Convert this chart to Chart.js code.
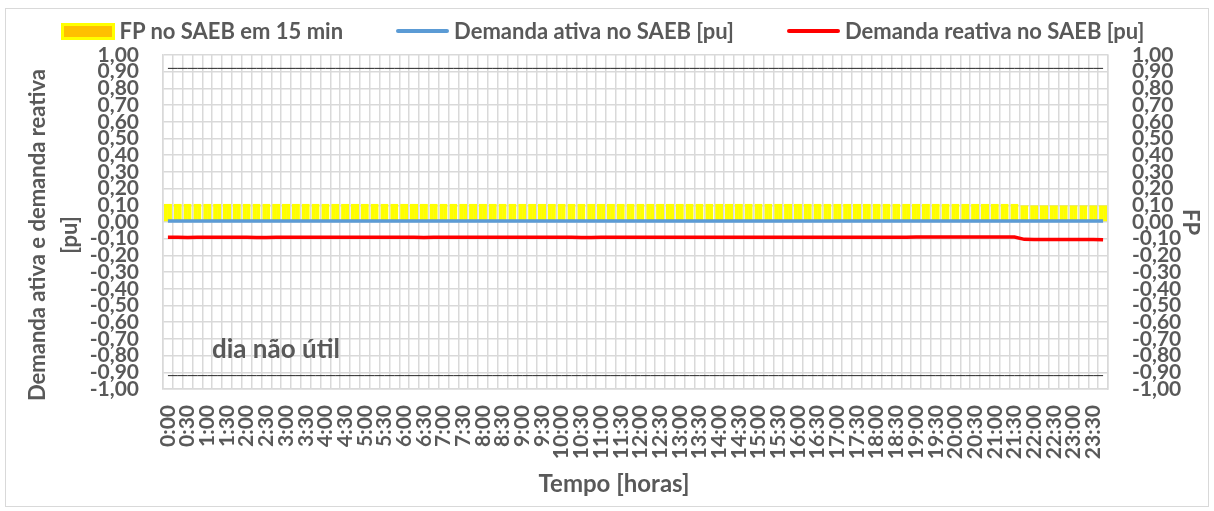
<!DOCTYPE html>
<html><head><meta charset="utf-8">
<script src="https://cdn.jsdelivr.net/npm/chart.js@4/dist/chart.umd.min.js"></script>
<style>
html,body{margin:0;padding:0;background:#fff;}
#wrap{position:relative;width:1214px;height:511px;overflow:hidden;font-family:Lato,'Noto Sans',sans-serif;}
canvas{position:absolute;left:0;top:0;}
#frame{position:absolute;left:5px;top:8px;width:1204px;height:499px;border:1px solid #D9D9D9;box-sizing:border-box;pointer-events:none;}
#legend{position:absolute;left:0;top:19px;width:1205px;display:flex;justify-content:center;align-items:center;column-gap:53px;font-weight:700;font-size:22px;color:#595959;line-height:24px;white-space:nowrap;}
.item{display:flex;align-items:center;}
.mk{display:inline-block;margin-right:5px;box-sizing:border-box;}
#note{position:absolute;left:212px;top:333px;font-weight:700;font-size:26px;color:#595959;line-height:30px;white-space:nowrap;}
#ytitle{position:absolute;left:-147px;top:203px;width:400px;height:64px;line-height:32px;text-align:center;font-weight:700;font-size:22px;color:#595959;transform:rotate(-90deg);transform-origin:50% 50%;white-space:nowrap;}
#xtitle{position:absolute;left:414px;top:467px;width:400px;line-height:32px;text-align:center;font-weight:700;font-size:24px;color:#595959;white-space:nowrap;}
</style></head>
<body>
<div id="wrap">
<canvas id="c" width="1214" height="511"></canvas>
<div id="frame"></div>
<div id="legend"></div>
<div id="ytitle"></div>
<div id="xtitle"></div>
<div id="note"></div>
</div>
<script>
// ---- data ----
const categories = [
"0:00","0:15","0:30","0:45","1:00","1:15","1:30","1:45","2:00","2:15","2:30","2:45",
"3:00","3:15","3:30","3:45","4:00","4:15","4:30","4:45","5:00","5:15","5:30","5:45",
"6:00","6:15","6:30","6:45","7:00","7:15","7:30","7:45","8:00","8:15","8:30","8:45",
"9:00","9:15","9:30","9:45","10:00","10:15","10:30","10:45","11:00","11:15","11:30","11:45",
"12:00","12:15","12:30","12:45","13:00","13:15","13:30","13:45","14:00","14:15","14:30","14:45",
"15:00","15:15","15:30","15:45","16:00","16:15","16:30","16:45","17:00","17:15","17:30","17:45",
"18:00","18:15","18:30","18:45","19:00","19:15","19:30","19:45","20:00","20:15","20:30","20:45",
"21:00","21:15","21:30","21:45","22:00","22:15","22:30","22:45","23:00","23:15","23:30","23:45"];

const xTickLabels = [
"0:00","0:30","1:00","1:30","2:00","2:30","3:00","3:30","4:00","4:30","5:00","5:30",
"6:00","6:30","7:00","7:30","8:00","8:30","9:00","9:30","10:00","10:30","11:00","11:30",
"12:00","12:30","13:00","13:30","14:00","14:30","15:00","15:30","16:00","16:30","17:00","17:30",
"18:00","18:30","19:00","19:30","20:00","20:30","21:00","21:30","22:00","22:30","23:00","23:30"];

const seriesNames = ["FP no SAEB em 15 min","Demanda ativa no SAEB [pu]","Demanda reativa no SAEB [pu]"];

const fp15min = [
0.11,0.11,0.11,0.11,0.11,0.11,0.11,0.11,0.11,0.11,0.11,0.11,
0.11,0.11,0.11,0.11,0.11,0.11,0.11,0.11,0.11,0.11,0.11,0.11,
0.11,0.11,0.11,0.11,0.11,0.11,0.11,0.11,0.11,0.11,0.11,0.11,
0.11,0.11,0.11,0.11,0.11,0.11,0.11,0.11,0.11,0.11,0.11,0.11,
0.11,0.11,0.11,0.11,0.11,0.11,0.11,0.11,0.11,0.11,0.11,0.11,
0.11,0.11,0.11,0.11,0.11,0.11,0.11,0.11,0.11,0.11,0.11,0.11,
0.11,0.11,0.11,0.11,0.11,0.11,0.11,0.11,0.11,0.11,0.11,0.11,
0.11,0.11,0.11,0.10,0.10,0.10,0.10,0.10,0.10,0.10,0.10,0.10];

const activeDemand = [
0.006,0.006,0.006,0.006,0.006,0.006,0.006,0.006,0.006,0.006,0.006,0.006,
0.006,0.006,0.006,0.006,0.006,0.006,0.006,0.006,0.006,0.006,0.006,0.006,
0.006,0.006,0.006,0.006,0.006,0.006,0.006,0.006,0.006,0.006,0.006,0.006,
0.006,0.006,0.006,0.006,0.006,0.006,0.006,0.006,0.006,0.006,0.006,0.006,
0.006,0.006,0.006,0.006,0.006,0.006,0.006,0.006,0.006,0.006,0.006,0.006,
0.006,0.006,0.006,0.006,0.006,0.006,0.006,0.006,0.006,0.006,0.006,0.006,
0.006,0.006,0.006,0.006,0.006,0.006,0.006,0.006,0.006,0.006,0.006,0.006,
0.006,0.006,0.006,0.006,0.006,0.006,0.006,0.006,0.006,0.006,0.006,0.006];

const reactiveDemand = [
-0.092,-0.092,-0.093,-0.092,-0.092,-0.092,-0.092,-0.092,-0.092,-0.093,-0.093,-0.092,
-0.092,-0.092,-0.092,-0.092,-0.092,-0.092,-0.092,-0.092,-0.092,-0.092,-0.092,-0.092,
-0.092,-0.092,-0.093,-0.092,-0.092,-0.092,-0.092,-0.092,-0.092,-0.092,-0.092,-0.092,
-0.092,-0.092,-0.092,-0.092,-0.092,-0.092,-0.093,-0.093,-0.092,-0.092,-0.092,-0.092,
-0.092,-0.092,-0.092,-0.092,-0.092,-0.092,-0.092,-0.092,-0.091,-0.091,-0.091,-0.091,
-0.091,-0.091,-0.091,-0.091,-0.091,-0.091,-0.091,-0.091,-0.091,-0.091,-0.091,-0.091,
-0.091,-0.091,-0.091,-0.091,-0.090,-0.090,-0.090,-0.090,-0.090,-0.090,-0.090,-0.090,
-0.090,-0.090,-0.090,-0.104,-0.105,-0.105,-0.105,-0.105,-0.105,-0.105,-0.105,-0.106];

const fpLimitUpper = new Array(categories.length).fill(0.92);
const fpLimitLower = new Array(categories.length).fill(-0.92);

const yTitleLines = ["Demanda ativa e demanda reativa", "[pu]"];
const y1Title = "FP";
const xTitle = "Tempo [horas]";
const noteText = "dia não útil";

// ---- style ----
const TXT = '#595959';
const GRID = '#D9D9D9';
const FAM = "Lato, 'Noto Sans', sans-serif";
const fontTick = {family: FAM, weight: 'bold', size: 21, lineHeight: 1.2};
const fontTitle = {family: FAM, weight: 'bold', size: 22, lineHeight: 1.5};
const fmt = v => (Math.abs(v) < 1e-9 ? 0 : v).toFixed(2).replace('.', ',');

// ---- HTML texts ----
const legendStyles = [
  {kind: 'box', fill: '#FFC000', stroke: '#FFFF00'},
  {kind: 'line', stroke: '#5B9BD5'},
  {kind: 'line', stroke: '#FF0000'}
];
const legendEl = document.getElementById('legend');
seriesNames.forEach((name, i) => {
  const it = document.createElement('div'); it.className = 'item';
  const mk = document.createElement('span'); mk.className = 'mk';
  const st = legendStyles[i];
  if (st.kind === 'box') {
    mk.style.cssText = 'width:54px;height:17px;background:' + st.fill + ';border:3px solid ' + st.stroke + ';';
  } else {
    mk.style.cssText = 'width:53px;height:4px;border-radius:2px;background:' + st.stroke + ';';
  }
  const tx = document.createElement('span'); tx.textContent = name;
  it.appendChild(mk); it.appendChild(tx); legendEl.appendChild(it);
});
const yt = document.getElementById('ytitle');
yTitleLines.forEach(l => { const d = document.createElement('div'); d.textContent = l; yt.appendChild(d); });
document.getElementById('xtitle').textContent = xTitle;
document.getElementById('note').textContent = noteText;

// ---- chart ----
new Chart(document.getElementById('c'), {
  type: 'bar',
  data: {
    labels: categories,
    datasets: [
      {type: 'line', label: seriesNames[1], data: activeDemand, yAxisID: 'y', borderColor: '#5B9BD5', backgroundColor: '#5B9BD5', borderWidth: 3.5, pointRadius: 0, tension: 0, order: 1},
      {type: 'line', label: seriesNames[2], data: reactiveDemand, yAxisID: 'y', borderColor: '#FF0000', backgroundColor: '#FF0000', borderWidth: 3.5, pointRadius: 0, tension: 0, order: 1},
      {type: 'line', label: 'FP limite superior', data: fpLimitUpper, yAxisID: 'y', borderColor: '#262626', borderWidth: 1, pointRadius: 0, order: 2},
      {type: 'line', label: 'FP limite inferior', data: fpLimitLower, yAxisID: 'y', borderColor: '#262626', borderWidth: 1, pointRadius: 0, order: 2},
      {type: 'bar', label: seriesNames[0], data: fp15min, yAxisID: 'y1', backgroundColor: '#FFC000', borderColor: '#FFFF00', borderWidth: 4, barPercentage: 0.82, categoryPercentage: 1, order: 5}
    ]
  },
  options: {
    responsive: false, animation: false, devicePixelRatio: 1,
    layout: {padding: {top: 55, left: 5, right: 5, bottom: 5}},
    plugins: {legend: {display: false}, tooltip: {enabled: false}},
    scales: {
      x: {
        offset: true,
        grid: {offset: true, color: GRID, lineWidth: 1.5, drawTicks: false},
        border: {color: GRID, width: 1.5},
        ticks: {autoSkip: false, maxRotation: 90, minRotation: 90, padding: 16, color: TXT, font: fontTick,
          callback: (v, i) => (i % 2 === 0 ? xTickLabels[i / 2] : '')},
        title: {display: false},
        afterFit: s => { s.height = 117; }
      },
      y: {
        position: 'left', min: -1, max: 1,
        ticks: {stepSize: 0.1, autoSkip: false, padding: 24, color: TXT, font: fontTick, callback: fmt},
        grid: {color: GRID, lineWidth: 1.5, drawTicks: false},
        border: {color: GRID, width: 1.5},
        title: {display: false},
        afterFit: s => { s.width = 158; }
      },
      y1: {
        position: 'right', min: -1, max: 1,
        ticks: {stepSize: 0.1, autoSkip: false, padding: 24, color: TXT, font: fontTick, callback: fmt},
        grid: {drawOnChartArea: false, drawTicks: false},
        border: {color: GRID, width: 1.5},
        title: {display: true, text: y1Title, color: TXT, font: fontTitle, padding: {top: 2, bottom: 0}},
        afterFit: s => { s.width = 101; }
      }
    }
  }
});
</script>
</body></html>
